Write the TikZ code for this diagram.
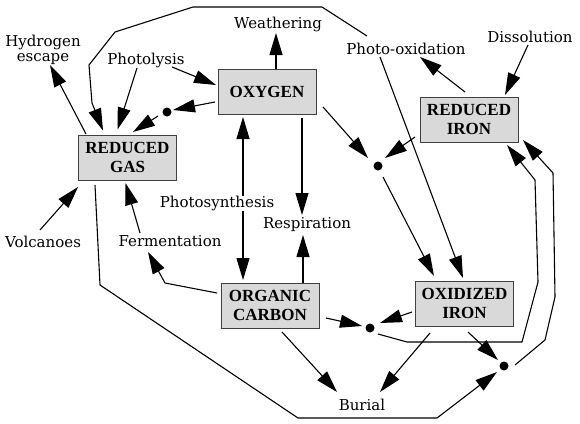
\documentclass[tikz,border=0pt]{standalone}
\usepackage{fontspec}
\setmainfont{DejaVu Serif}
\newfontfamily\boxfont{Liberation Serif}
\usetikzlibrary{arrows.meta,calc}
\begin{document}
\begin{tikzpicture}[x=1pt,y=-1pt,
  box/.style={draw=black!75, line width=0.8pt, fill=black!15, minimum width=98pt,
    minimum height=45pt, inner sep=0pt, align=center,
    font=\boxfont\bfseries\fontsize{17}{19.5}\selectfont},
  lbl/.style={inner sep=0pt, align=center, font=\fontsize{15}{15.5}\selectfont},
  flow/.style={line width=1.1pt, line join=round, -{Triangle[length=22pt,width=13pt]}},
  dot/.style={circle, fill=black, inner sep=0pt, minimum size=9pt}]
\useasboundingbox (0,0) rectangle (580,423);
% boxes
\node[box] (rg) at (127.5,157.5) {REDUCED\\GAS};
\node[box] (ox) at (267,91.5) {OXYGEN};
\node[box] (ri) at (469,119.5) {REDUCED\\IRON};
\node[box] (oc) at (270,305.5) {ORGANIC\\CARBON};
\node[box] (oi) at (464.5,303.5) {OXIDIZED\\IRON};
% dots
\node[dot] (d1) at (167,112) {};
\node[dot] (d2) at (378,166) {};
\node[dot] (d3) at (370,328) {};
\node[dot] (d4) at (504,366) {};
% labels
\node[lbl] (hyd) at (43,50) {Hydrogen\\escape};
\node[lbl] (pl) at (146,60) {Photolysis};
\node[lbl] (we) at (278,24) {Weathering};
\node[lbl] (po) at (406,49) {Photo-oxidation};
\node[lbl] (di) at (530,37) {Dissolution};
\node[lbl] (ps) at (217,203) {Photosynthesis};
\node[lbl] (re) at (307,225) {Respiration};
\node[lbl] (fe) at (170,241) {Fermentation};
\node[lbl] (vo) at (43,242) {Volcanoes};
\node[lbl] (bu) at (362,405) {Burial};
% connectors
\draw[flow] ($(rg)+(-41.5,-23.5)$) -- ($(hyd)+(7,15)$);
\draw[flow] ($(pl)+(-9,8)$) -- ($(rg)+(-10,-28)$);
\draw[flow] ($(pl)+(26,7)$) -- ($(ox)+(-51,-6.5)$);
\draw[flow] ($(ox)+(-52,10.5)$) -- ($(d1)+(6,-2)$);
\draw[flow] ($(d1)+(-9,4)$) -- ($(rg)+(5.5,-25.5)$);
\draw[flow] ($(po)+(-39,-13)$) -- (322,7) -- (193,7) -- (115,32) -- (89,65)
  -- (92,103) -- ($(rg)+(-24.5,-27)$);
\draw[flow] ($(po)+(-26,8)$) -- ($(oi)+(-1.5,-25.5)$);
\draw[flow] ($(ri)+(-4,-27.5)$) -- ($(po)+(14,8)$);
\draw[flow] ($(di)+(-2,8)$) -- ($(ri)+(36,-24.5)$);
\draw[flow] ($(ox)+(9,-22.5)$) -- ($(we)+(-2,9)$);
\draw[flow] ($(ox)+(56,15.5)$) -- ($(d2)+(-10,-8)$);
\draw[flow] ($(ri)+(-54,17.5)$) -- ($(d2)+(7,-8)$);
\draw[flow] ($(d2)+(5,11)$) -- ($(oi)+(-30.5,-27.5)$);
\draw[flow] ($(ps)+(26,-7)$) -- ($(ox)+(-24,25.5)$);
\draw[flow] ($(ps)+(26,8)$) -- ($(oc)+(-27,-25.5)$);
\draw[flow] ($(ox)+(35,26.5)$) -- ($(re)+(-5,-10)$);
\draw[flow] ($(oc)+(33,-22.5)$) -- ($(re)+(-4,10)$);
\draw[flow] ($(oc)+(-53,-12.5)$) -- (165,283) -- ($(fe)+(-22,11)$);
\draw[flow] ($(fe)+(-30,-8)$) -- ($(rg)+(-2,25.5)$);
\draw[flow] ($(vo)+(-3,-12)$) -- ($(rg)+(-49.5,29.5)$);
\draw[flow] ($(rg)+(-32.5,27.5)$) -- (100,285) -- (298,418) -- (437,418)
  -- ($(d4)+(-7,6)$);
\draw[flow] ($(oc)+(56,12.5)$) -- ($(d3)+(-8,-2)$);
\draw[flow] ($(oi)+(-52.5,8.5)$) -- ($(d3)+(10,-5)$);
\draw[flow] ($(d3)+(8,6)$) -- (407,342) -- (522,342) -- (538,282) -- (535,180)
  -- ($(ri)+(38,25.5)$);
\draw[flow] ($(d4)+(11,-1)$) -- (545,340) -- (555,297) -- (553,173)
  -- ($(ri)+(54,20.5)$);
\draw[flow] ($(oi)+(3.5,28.5)$) -- ($(d4)+(-6,-6)$);
\draw[flow] ($(oc)+(12,26.5)$) -- ($(bu)+(-25,-13)$);
\draw[flow] ($(oi)+(-34.5,29.5)$) -- ($(bu)+(18,-13)$);
\end{tikzpicture}
\end{document}
